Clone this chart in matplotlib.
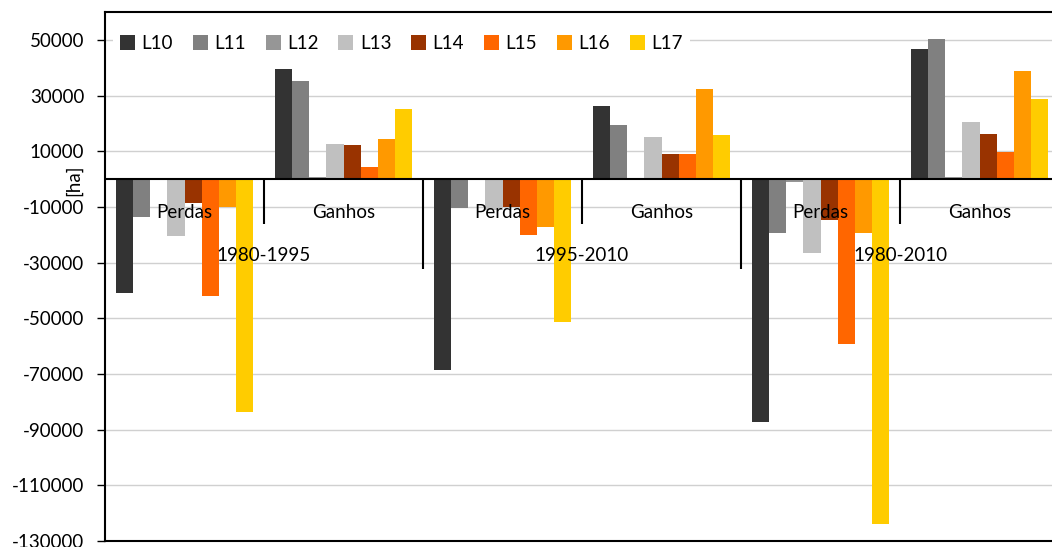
import numpy as np
import matplotlib
matplotlib.use("Agg")
import matplotlib.pyplot as plt

plt.rcParams['font.family'] = ['Lato', 'DejaVu Sans']

# Data
series = ["L10", "L11", "L12", "L13", "L14", "L15", "L16", "L17"]
colors = ["#333333", "#808080", "#969696", "#C0C0C0",
          "#993300", "#FF6600", "#FF9900", "#FFCC00"]
categories = ["Perdas", "Ganhos", "Perdas", "Ganhos", "Perdas", "Ganhos"]
periods = ["1980-1995", "1995-2010", "1980-2010"]

# values per series, in category order
L10 = [-40900, 39500, -68600, 26200, -87300, 46700]
L11 = [-13500, 35200, -10300, 19400, -19300, 50300]
L12 = [-300, 700, 0, 0, -900, 700]
L13 = [-20400, 12600, -11000, 15100, -26500, 20500]
L14 = [-8500, 12200, -10000, 9000, -14700, 16200]
L15 = [-41900, 4400, -20100, 9000, -59200, 9700]
L16 = [-10000, 14400, -17100, 32300, -19300, 38800]
L17 = [-83500, 25100, -51200, 15800, -123900, 28700]
values = [L10, L11, L12, L13, L14, L15, L16, L17]

yticks = np.arange(-130000, 50001, 20000)
fs = 13.5

fig = plt.figure(figsize=(10.52, 5.47), dpi=100)
ax = fig.add_axes([105 / 1052, 1 - 541 / 547, 954 / 1052, 529 / 547])

x = np.arange(len(categories))
n = len(series)
bw = 0.86 / n
for i, (name, vals) in enumerate(zip(series, values)):
    ax.bar(x - 0.43 + bw * (i + 0.5), vals, width=bw, color=colors[i],
           label=name, zorder=2)

ax.set_xlim(-0.5, 5.5)
ax.set_ylim(-130000, 60000)
ax.set_yticks(yticks)
ax.set_yticklabels([str(v) for v in yticks], fontsize=fs)
ax.set_xticks([])
ax.tick_params(axis='y', length=6, width=1, pad=9)
ax.grid(axis='y', color='#d0d0d0', linewidth=1, zorder=0)
ax.set_axisbelow(True)

for s in ['left', 'bottom', 'top']:
    ax.spines[s].set_linewidth(1.5)
ax.spines['right'].set_visible(False)

# zero axis line
ax.axhline(0, color='black', linewidth=1.5, zorder=3)

# category separators
for k in range(1, len(categories)):
    bottom = -32300 if k % 2 == 0 else -16200
    ax.vlines(k - 0.5, bottom, 0, color='black', linewidth=1.5, zorder=3)

for k, cat in enumerate(categories):
    ax.text(k, -11900, cat, ha='center', va='center', fontsize=fs, zorder=5)
for k, p in enumerate(periods):
    ax.text(2 * k + 0.5, -27300, p, ha='center', va='center', fontsize=fs,
            zorder=5)

fig.text(74 / 1052, 1 - 180 / 547, "[ha]", rotation=90, ha='center',
         va='center', fontsize=fs)

leg = ax.legend(loc='upper left', bbox_to_anchor=(0.0, 0.985), ncol=8,
                frameon=True, facecolor='white', edgecolor='none',
                framealpha=1, fancybox=False,
                fontsize=fs, handlelength=0.8, handleheight=0.8,
                handletextpad=0.35, columnspacing=1.05, borderaxespad=0.4)

fig.savefig("out.png", dpi=100)
